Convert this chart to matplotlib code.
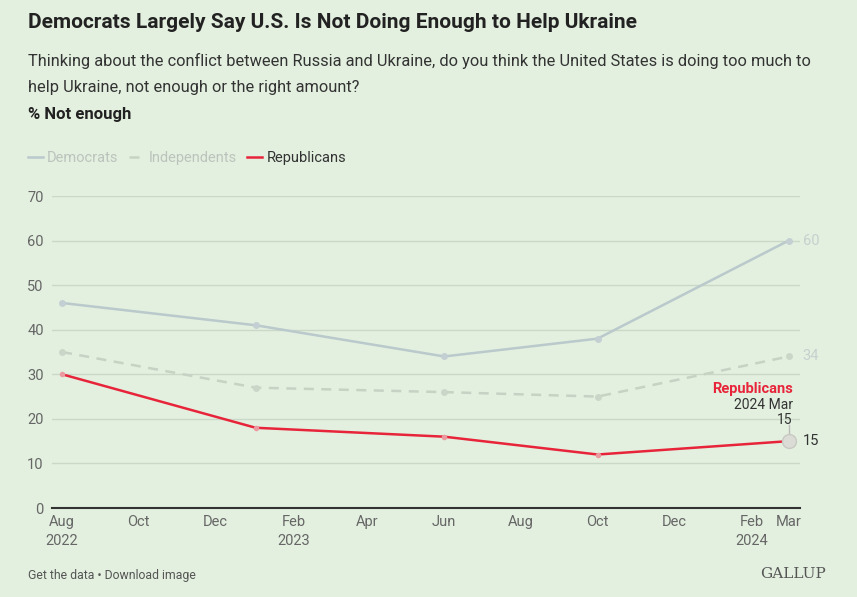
import numpy as np
import pandas as pd
import matplotlib.pyplot as plt
import matplotlib.dates as mdates

plt.rcParams['font.family'] = ['Roboto', 'DejaVu Sans']

dates = pd.to_datetime(['2022-08-01', '2023-01-02', '2023-06-01', '2023-10-01', '2024-03-01'])
democrats = [46, 41, 34, 38, 60]
independents = [35, 27, 26, 25, 34]
republicans = [30, 18, 16, 12, 15]

bg = '#e3f0df'
dem_c = '#b9c9cc'
ind_c = '#c6d3c4'
rep_c = '#e8243a'

fig = plt.figure(figsize=(8.57, 5.97), dpi=100, facecolor=bg)
ax = fig.add_axes([52 / 857, 1 - 508 / 597, 748 / 857, 312 / 597], facecolor=bg)

ax.plot(dates, democrats, color=dem_c, lw=1.8, marker='o', ms=5, mfc='#c3cfd2', mec='none', zorder=3, label='Democrats')
ax.plot(dates, independents, color=ind_c, lw=1.8, ls=(0, (4, 3)), marker='o', ms=5, mfc='#cad6c8', mec='none', zorder=3, label='Independents')
ax.plot(dates, republicans, color=rep_c, lw=1.8, marker='o', ms=4, mfc='#eb9aa0', mec='none', zorder=4, label='Republicans')
ax.plot(dates[-1:], republicans[-1:], marker='o', ms=10, mfc='#dcdcd6', mec='#c9c9c4', mew=1, zorder=5)

ax.set_xlim(pd.Timestamp('2022-07-24'), pd.Timestamp('2024-03-10'))
ax.set_ylim(0, 70)
ax.set_yticks(range(0, 80, 10))
ax.grid(axis='y', color='#cad8c7', lw=1)
ax.set_axisbelow(True)
for s in ['top', 'right', 'left']:
    ax.spines[s].set_visible(False)
ax.spines['bottom'].set_color('#333333')
ax.spines['bottom'].set_linewidth(1.5)
ax.tick_params(axis='y', length=0, labelsize=10.5, labelcolor='#666666', pad=6)
ax.tick_params(axis='x', length=0, labelsize=10.5, labelcolor='#666666', pad=5)

ticks = pd.date_range('2022-08-01', '2024-03-01', freq='2MS').tolist() + [pd.Timestamp('2024-03-01')]
labels = []
for t in ticks:
    lab = t.strftime('%b')
    if t in (pd.Timestamp('2022-08-01'), pd.Timestamp('2023-02-01'), pd.Timestamp('2024-02-01')):
        lab += '\n' + t.strftime('%Y')
    labels.append(lab)
ax.set_xticks(ticks)
ax.set_xticklabels(labels, linespacing=1.5)

# end labels
ax.annotate(str(democrats[-1]), (dates[-1], democrats[-1]), xytext=(10, 0), textcoords='offset points',
            va='center', fontsize=10.5, color='#c6d0cf')
ax.annotate(str(independents[-1]), (dates[-1], independents[-1]), xytext=(10, 0), textcoords='offset points',
            va='center', fontsize=10.5, color='#c6d0cf')
ax.annotate(str(republicans[-1]), (dates[-1], republicans[-1]), xytext=(10, 0), textcoords='offset points',
            va='center', fontsize=10.5, color='#333333')

# tooltip label
ax.plot([dates[-1], dates[-1]], [republicans[-1] + 1.0, republicans[-1] + 3.6], color='#bbbbbb', lw=1, zorder=4)
ax.annotate('Republicans', (dates[-1], republicans[-1]), xytext=(3, 37.5), textcoords='offset points',
            ha='right', va='center', fontsize=10.5, fontweight='bold', color=rep_c)
ax.annotate('2024 Mar', (dates[-1], republicans[-1]), xytext=(3, 26), textcoords='offset points',
            ha='right', va='center', fontsize=10, color='#333333')
ax.annotate(str(republicans[-1]), (dates[-1], republicans[-1]), xytext=(3, 15.5), textcoords='offset points',
            ha='right', va='center', fontsize=10, color='#333333')

leg = ax.legend(loc='center left', bbox_to_anchor=(15 / 857, 1 - 158 / 597), bbox_transform=fig.transFigure,
                ncol=3, frameon=False, fontsize=10.5, handlelength=1.0, handletextpad=0.3, columnspacing=0.75,
                labelcolor=['#bcc3bc', '#bcc3bc', '#333333'])
for h in leg.legend_handles:
    h.set_marker('')

fig.text(28 / 857, 1 - 22 / 597, 'Democrats Largely Say U.S. Is Not Doing Enough to Help Ukraine',
         fontsize=15, fontweight='bold', color='#222222', va='center')
fig.text(28 / 857, 1 - 74 / 597,
         'Thinking about the conflict between Russia and Ukraine, do you think the United States is doing too much to\n'
         'help Ukraine, not enough or the right amount?',
         fontsize=11.8, color='#333333', va='center', linespacing=1.85)
fig.text(28 / 857, 1 - 115 / 597, '% Not enough', fontsize=12, fontweight='bold', color='#222222', va='center')
fig.text(28 / 857, 1 - 575 / 597, 'Get the data \u2022 Download image', fontsize=8.8, color='#555555', va='center')
fig.text(826 / 857, 1 - 574 / 597, 'GALLUP', family='DejaVu Serif', fontsize=11, color='#555555',
         ha='right', va='center')

fig.savefig('out.png', dpi=100, facecolor=bg)
